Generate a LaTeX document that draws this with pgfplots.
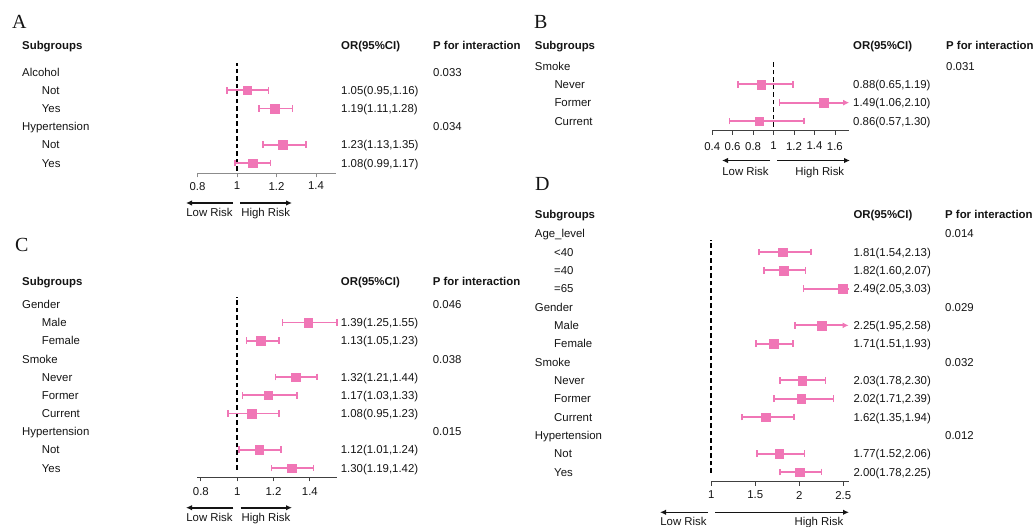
\documentclass[border=0pt]{standalone}
\usepackage{fontspec}
\setmainfont{Liberation Sans}
\newfontfamily\serif{Liberation Serif}
\usepackage{pgfplots}
\pgfplotsset{compat=1.18}
\usepackage{pgfplotstable}
\usetikzlibrary{arrows.meta}
\definecolor{pk}{RGB}{240,118,182}
\definecolor{txt}{RGB}{20,20,20}
\newcommand\fs{\fontsize{11.4}{13.7}\selectfont}

% y = row position counted from the bottom of each panel
\pgfplotstableread{
y or lo hi
5 1.05 0.95 1.16
4 1.19 1.11 1.28
2 1.23 1.13 1.35
1 1.08 0.99 1.17
}\dataA
\pgfplotstableread{
y or lo hi
3 0.88 0.65 1.19
1 0.86 0.57 1.30
}\dataB
\pgfplotstableread{
y or lo hi
2 1.49 1.06 2.10
}\dataBc
\pgfplotstableread{
y or lo hi
9 1.39 1.25 1.55
8 1.13 1.05 1.23
6 1.32 1.21 1.44
5 1.17 1.03 1.33
4 1.08 0.95 1.23
2 1.12 1.01 1.24
1 1.30 1.19 1.42
}\dataC
\pgfplotstableread{
y or lo hi
13 1.81 1.54 2.13
12 1.82 1.60 2.07
8 1.71 1.51 1.93
6 2.03 1.78 2.30
5 2.02 1.71 2.39
4 1.62 1.35 1.94
2 1.77 1.52 2.06
1 2.00 1.78 2.25
}\dataD
\pgfplotstableread{
y or lo hi
11 2.49 2.05 3.03
9 2.25 1.95 2.58
}\dataDc

\pgfplotsset{
  fp/.style={scale only axis, anchor=center, clip=false,
    axis y line=none, axis x line*=bottom, enlargelimits=false,
    tick align=outside, major tick length=4pt,
    xtick style={black!75, line width=0.8pt},
    x axis line style={black!75, line width=0.8pt},
    xticklabel style={font=\fs, inner sep=0pt, anchor=north, text=txt},
    /pgf/number format/assume math mode=true, ytick=\empty},
  bar/.style={only marks, mark=square*, mark size=4.3pt, color=pk,
    mark options={fill=pk, draw=pk, line width=0.2pt},
    error bars/.cd, x dir=#1, x explicit,
    error bar style={line width=1.8pt, pk},
    error mark options={rotate=90, line width=1.5pt, pk, mark size=3.4pt}},
  bar/.default=both,
  dashline/.style={black, line width=1.7pt, dash pattern=on 4.5pt off 3pt},
  clipbar/.style={pk, line width=1.8pt},
}
\tikzset{
  t/.style={anchor=base west, inner sep=0pt, font=\fs, text=txt},
  tc/.style={anchor=base, inner sep=0pt, font=\fs, text=txt},
  arr/.style={line width=1.6pt, txt, -{Latex[length=6pt,width=5.5pt]}},
  let/.style={anchor=base west, inner sep=0pt, font=\serif\fontsize{20}{24}\selectfont, text=txt},
}
\newcommand\T[3]{\node[t] at (#1pt,-#2pt) {#3};}
\newcommand\HD[3]{\node[t] at (#1pt,-#2pt) {\bfseries #3};}

\begin{document}
\begin{tikzpicture}
\path[use as bounding box] (0pt,0pt) rectangle (1034pt,-527pt);

% ---------- Panel A ----------
\begin{axis}[fp, width=138.25pt, height=110.3pt, at={(266.7pt,-118.15pt)},
  xmin=0.8, xmax=1.5, ymin=0.434, ymax=6.495, xtick={0.8,1,1.2,1.4},
  xtick style={black!45}, x axis line style={black!45},
  xticklabel style={yshift=-4.6pt}]
\addplot[dashline] coordinates {(1,0.577) (1,6.495)};
\addplot[bar] table[x=or, y=y, x error plus expr=\thisrow{hi}-\thisrow{or}, x error minus expr=\thisrow{or}-\thisrow{lo}] {\dataA};
\end{axis}

% ---------- Panel B ----------
\begin{axis}[fp, width=137.05pt, height=70pt, at={(780.7pt,-95.7pt)},
  xmin=0.4, xmax=1.74, ymin=0.47, ymax=4.29, xtick={0.4,0.6,0.8,1,1.2,1.4,1.6},
  xticklabel style={yshift=-7.2pt}]
\addplot[dashline] coordinates {(1,0.672) (1,4.29)};
\addplot[clipbar, -{Latex[length=6pt,width=6pt]}] coordinates {(1.06,2) (1.74,2)};
\addplot[bar=minus] table[x=or, y=y, x error minus expr=\thisrow{or}-\thisrow{lo}, x error plus expr=0] {\dataBc};
\addplot[bar] table[x=or, y=y, x error plus expr=\thisrow{hi}-\thisrow{or}, x error minus expr=\thisrow{or}-\thisrow{lo}] {\dataB};
\end{axis}

% ---------- Panel C ----------
\begin{axis}[fp, width=139.9pt, height=180.6pt, at={(267.15pt,-387pt)},
  xmin=0.78, xmax=1.55, ymin=0.489, ymax=10.418, xtick={0.8,1,1.2,1.4},
  xticklabel style={yshift=-6.3pt}]
\addplot[dashline] coordinates {(1,0.891) (1,10.418)};
\addplot[bar] table[x=or, y=y, x error plus expr=\thisrow{hi}-\thisrow{or}, x error minus expr=\thisrow{or}-\thisrow{lo}] {\dataC};
\end{axis}

% ---------- Panel D ----------
\begin{axis}[fp, width=137.3pt, height=241.7pt, at={(779.95pt,-360.85pt)},
  xmin=1, xmax=2.56, ymin=0.47, ymax=13.656, xtick={1,1.5,2,2.5},
  xticklabel style={yshift=-5.2pt}]
\addplot[dashline] coordinates {(1,0.945) (1,13.656)};
\addplot[clipbar] coordinates {(2.05,11) (2.56,11)};
\addplot[clipbar, -{Latex[length=6pt,width=6pt]}] coordinates {(1.95,9) (2.56,9)};
\addplot[bar=minus] table[x=or, y=y, x error minus expr=\thisrow{or}-\thisrow{lo}, x error plus expr=0] {\dataDc};
\addplot[bar] table[x=or, y=y, x error plus expr=\thisrow{hi}-\thisrow{or}, x error minus expr=\thisrow{or}-\thisrow{lo}] {\dataD};
\end{axis}

% ---------- Letters ----------
\node[let] at (12pt,-28.3pt) {A};
\node[let] at (534pt,-28.3pt) {B};
\node[let] at (15pt,-251.7pt) {C};
\node[let] at (535pt,-190pt) {D};

% ---------- Text A ----------
\HD{22}{49.1}{Subgroups} \HD{341}{49.1}{OR(95\%CI)} \HD{433}{49.1}{P for interaction}
\T{22}{76.1}{Alcohol} \T{433}{76.1}{0.033}
\T{41.7}{94.3}{Not} \T{341}{94.3}{1.05(0.95,1.16)}
\T{41.7}{112.5}{Yes} \T{341}{112.5}{1.19(1.11,1.28)}
\T{22}{130.7}{Hypertension} \T{433}{130.7}{0.034}
\T{41.7}{148.9}{Not} \T{341}{148.9}{1.23(1.13,1.35)}
\T{41.7}{167.1}{Yes} \T{341}{167.1}{1.08(0.99,1.17)}
\draw[arr] (233pt,-203pt) -- (186pt,-203pt);
\draw[arr] (240pt,-203pt) -- (292pt,-203pt);
\node[tc] at (209.5pt,-216.4pt) {Low Risk};
\node[tc] at (265.7pt,-216.4pt) {High Risk};

% ---------- Text B ----------
\HD{534.7}{49.1}{Subgroups} \HD{853}{49.1}{OR(95\%CI)} \HD{946}{49.1}{P for interaction}
\T{534.7}{70.1}{Smoke} \T{946}{70.1}{0.031}
\T{554.3}{88.4}{Never} \T{853}{88.4}{0.88(0.65,1.19)}
\T{554.3}{106.8}{Former} \T{853}{106.8}{1.49(1.06,2.10)}
\T{554.3}{125.1}{Current} \T{853}{125.1}{0.86(0.57,1.30)}
\draw[arr] (770pt,-160.5pt) -- (722pt,-160.5pt);
\draw[arr] (777pt,-160.5pt) -- (850pt,-160.5pt);
\node[tc] at (745.5pt,-175.1pt) {Low Risk};
\node[tc] at (819.8pt,-175.1pt) {High Risk};

% ---------- Text C ----------
\HD{22}{285.8}{Subgroups} \HD{340.7}{285.8}{OR(95\%CI)} \HD{432.7}{285.8}{P for interaction}
\T{22}{308.4}{Gender} \T{432.7}{308.4}{0.046}
\T{41.7}{326.6}{Male} \T{340.7}{326.6}{1.39(1.25,1.55)}
\T{41.7}{344.8}{Female} \T{340.7}{344.8}{1.13(1.05,1.23)}
\T{22}{363.0}{Smoke} \T{432.7}{363.0}{0.038}
\T{41.7}{381.2}{Never} \T{340.7}{381.2}{1.32(1.21,1.44)}
\T{41.7}{399.4}{Former} \T{340.7}{399.4}{1.17(1.03,1.33)}
\T{41.7}{417.5}{Current} \T{340.7}{417.5}{1.08(0.95,1.23)}
\T{22}{435.7}{Hypertension} \T{432.7}{435.7}{0.015}
\T{41.7}{453.9}{Not} \T{340.7}{453.9}{1.12(1.01,1.24)}
\T{41.7}{472.1}{Yes} \T{340.7}{472.1}{1.30(1.19,1.42)}
\draw[arr] (233.3pt,-507.7pt) -- (186pt,-507.7pt);
\draw[arr] (240.7pt,-507.7pt) -- (292pt,-507.7pt);
\node[tc] at (209.5pt,-521.8pt) {Low Risk};
\node[tc] at (266pt,-521.8pt) {High Risk};

% ---------- Text D ----------
\HD{534.7}{218.1}{Subgroups} \HD{853.3}{218.1}{OR(95\%CI)} \HD{945}{218.1}{P for interaction}
\T{534.7}{237.8}{Age\_level} \T{945}{237.8}{0.014}
\T{554}{256.1}{<40} \T{853.3}{256.1}{1.81(1.54,2.13)}
\T{554}{274.5}{=40} \T{853.3}{274.5}{1.82(1.60,2.07)}
\T{554}{292.8}{=65} \T{853.3}{292.8}{2.49(2.05,3.03)}
\T{534.7}{311.1}{Gender} \T{945}{311.1}{0.029}
\T{554}{329.5}{Male} \T{853.3}{329.5}{2.25(1.95,2.58)}
\T{554}{347.8}{Female} \T{853.3}{347.8}{1.71(1.51,1.93)}
\T{534.7}{366.1}{Smoke} \T{945}{366.1}{0.032}
\T{554}{384.4}{Never} \T{853.3}{384.4}{2.03(1.78,2.30)}
\T{554}{402.8}{Former} \T{853.3}{402.8}{2.02(1.71,2.39)}
\T{554}{421.1}{Current} \T{853.3}{421.1}{1.62(1.35,1.94)}
\T{534.7}{439.4}{Hypertension} \T{945}{439.4}{0.012}
\T{554}{457.8}{Not} \T{853.3}{457.8}{1.77(1.52,2.06)}
\T{554}{476.1}{Yes} \T{853.3}{476.1}{2.00(1.78,2.25)}
\draw[arr] (708pt,-512.3pt) -- (660pt,-512.3pt);
\draw[arr] (715pt,-512.3pt) -- (849pt,-512.3pt);
\node[tc] at (683.5pt,-525.6pt) {Low Risk};
\node[tc] at (819pt,-525.6pt) {High Risk};
\end{tikzpicture}
\end{document}
